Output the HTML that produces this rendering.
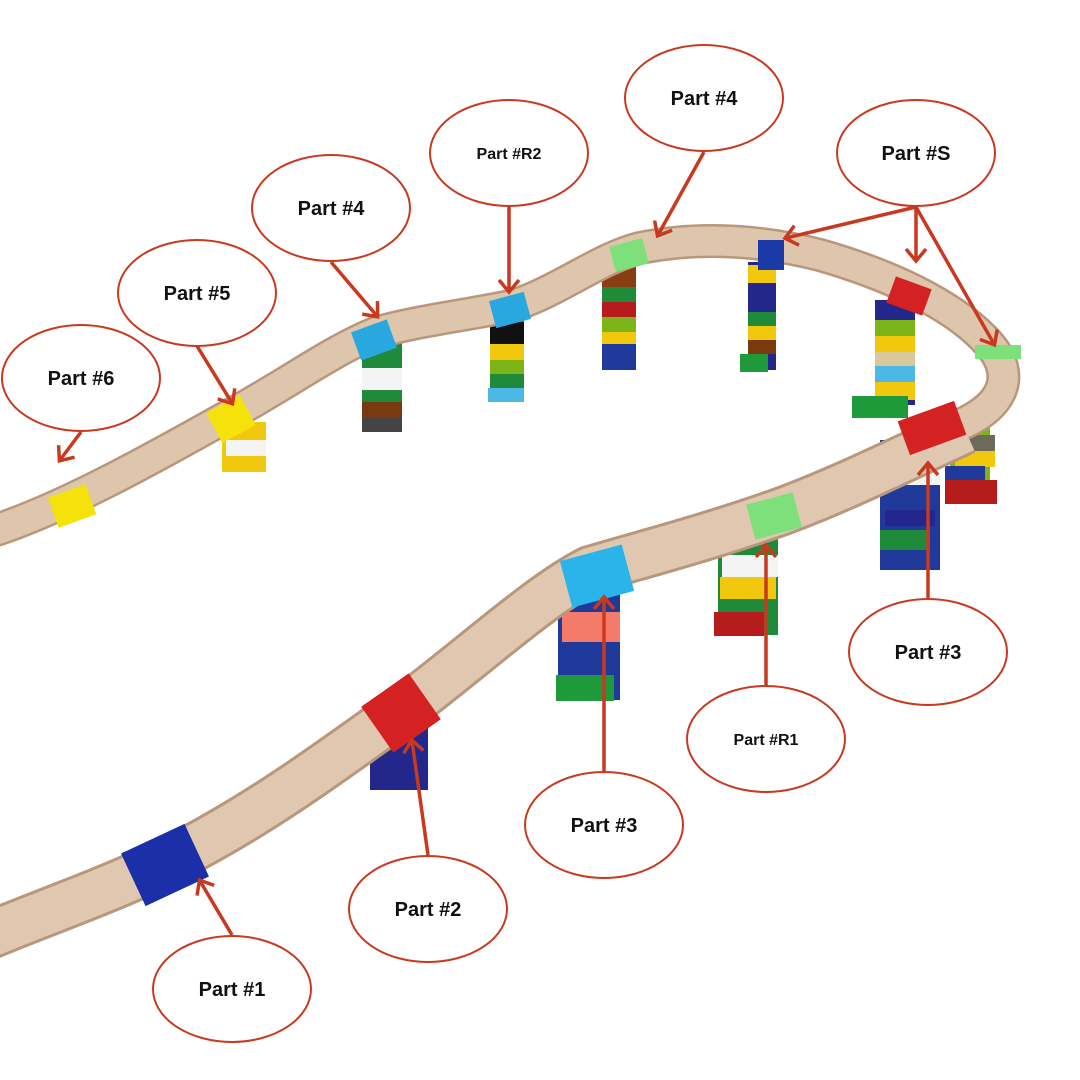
<!DOCTYPE html>
<html><head><meta charset="utf-8"><style>
html,body{margin:0;padding:0;background:#fff}
svg{display:block}
text{font-family:"Liberation Sans",sans-serif;font-weight:bold;fill:#111}
</style></head><body>
<svg width="1080" height="1080" viewBox="0 0 1080 1080" xmlns="http://www.w3.org/2000/svg">
<defs>
<marker id="ah" viewBox="0 0 10 10" refX="8" refY="5" markerWidth="10" markerHeight="10" orient="auto" markerUnits="userSpaceOnUse" style="overflow:visible">
<path d="M-3,-5 L9,5 L-3,15" fill="none" stroke="#c8391f" stroke-width="3.5"/>
</marker>
</defs>
<!-- pillars (back) -->
<g>
<rect x="602" y="265" width="34" height="105" fill="#1f3a9a"/>
<rect x="602" y="265" width="34" height="22" fill="#8a3d12"/>
<rect x="602" y="287" width="34" height="15" fill="#1e8a3a"/>
<rect x="602" y="302" width="34" height="15" fill="#b71c1c"/>
<rect x="602" y="317" width="34" height="15" fill="#7cb518"/>
<rect x="602" y="332" width="34" height="12" fill="#f2c80f"/>
<rect x="748" y="262" width="28" height="108" fill="#23268a"/>
<rect x="748" y="265" width="28" height="18" fill="#f2c80f"/>
<rect x="748" y="312" width="28" height="14" fill="#1e8a3a"/>
<rect x="748" y="326" width="28" height="14" fill="#f2c80f"/>
<rect x="748" y="340" width="28" height="14" fill="#7a3a10"/>
<rect x="740" y="354" width="28" height="18" fill="#1e9a3a"/>
<rect x="875" y="300" width="40" height="105" fill="#23268a"/>
<rect x="875" y="320" width="40" height="16" fill="#7cb518"/>
<rect x="875" y="336" width="40" height="16" fill="#f2c80f"/>
<rect x="875" y="352" width="40" height="14" fill="#d9c89a"/>
<rect x="875" y="366" width="40" height="16" fill="#4cb8e6"/>
<rect x="875" y="382" width="40" height="18" fill="#f2c80f"/>
<rect x="852" y="396" width="56" height="22" fill="#1e9a3a"/>
<rect x="950" y="420" width="40" height="70" fill="#7cb518"/>
<rect x="955" y="435" width="40" height="16" fill="#6e6a5a"/>
<rect x="955" y="451" width="40" height="16" fill="#f2c80f"/>
<rect x="945" y="466" width="40" height="18" fill="#1f3a9a"/>
<rect x="945" y="480" width="52" height="24" fill="#b71c1c"/>
<rect x="490" y="320" width="34" height="80" fill="#1e8a3a"/>
<rect x="490" y="322" width="34" height="22" fill="#111"/>
<rect x="490" y="344" width="34" height="16" fill="#f2c80f"/>
<rect x="490" y="360" width="34" height="14" fill="#7cb518"/>
<rect x="488" y="388" width="36" height="14" fill="#4cb8e6"/>
<rect x="362" y="340" width="40" height="92" fill="#1e8a3a"/>
<rect x="362" y="368" width="40" height="22" fill="#f4f4f4"/>
<rect x="362" y="402" width="40" height="18" fill="#7a3a10"/>
<rect x="362" y="418" width="40" height="14" fill="#444"/>
<rect x="222" y="422" width="44" height="50" fill="#f2c80f"/>
<rect x="226" y="440" width="40" height="16" fill="#f4f4f4"/>
</g>
<!-- back track -->
<path d="M-10,532 C60,510 150,460 230,415 C290,382 330,352 375,333 C420,320 470,315 515,305 C560,290 600,258 640,248 C700,236 760,240 820,255 C900,278 960,310 990,345 C1015,375 1005,405 960,425" fill="none" stroke="#b8977c" stroke-width="34"/>
<path d="M-10,532 C60,510 150,460 230,415 C290,382 330,352 375,333 C420,320 470,315 515,305 C560,290 600,258 640,248 C700,236 760,240 820,255 C900,278 960,310 990,345 C1015,375 1005,405 960,425" fill="none" stroke="#dec6ad" stroke-width="29"/>
<!-- front pillars -->
<rect x="880" y="440" width="60" height="130" fill="#1f3a9a"/>
<rect x="890" y="465" width="50" height="20" fill="#f4f4f4"/>
<rect x="885" y="510" width="50" height="16" fill="#23268a"/>
<rect x="880" y="530" width="50" height="20" fill="#1e8a3a"/>
<rect x="718" y="535" width="60" height="100" fill="#1e8a3a"/>
<rect x="722" y="555" width="56" height="22" fill="#f4f4f4"/>
<rect x="720" y="577" width="56" height="22" fill="#f2c80f"/>
<rect x="714" y="612" width="50" height="24" fill="#b71c1c"/>
<rect x="558" y="590" width="62" height="110" fill="#1f3a9a"/>
<rect x="562" y="612" width="58" height="30" fill="#f47a6a"/>
<rect x="556" y="675" width="58" height="26" fill="#1e9a3a"/>
<rect x="370" y="720" width="58" height="70" fill="#23268a"/>
<!-- front track -->
<path d="M965,430 C900,460 840,490 780,512 C700,540 640,555 590,570 C540,595 470,660 400,712 C320,770 250,820 170,860 C110,890 50,910 -10,935" fill="none" stroke="#b8977c" stroke-width="50"/>
<path d="M965,430 C900,460 840,490 780,512 C700,540 640,555 590,570 C540,595 470,660 400,712 C320,770 250,820 170,860 C110,890 50,910 -10,935" fill="none" stroke="#e0c8b0" stroke-width="44"/>
<!-- connectors -->
<rect x="52" y="490" width="40" height="32" fill="#f5e20a" transform="rotate(-20 72 506)"/>
<rect x="212" y="402" width="38" height="34" fill="#f5e20a" transform="rotate(-28 231 419)"/>
<rect x="355" y="325" width="38" height="30" fill="#29a8e0" transform="rotate(-20 374 340)"/>
<rect x="492" y="296" width="36" height="28" fill="#29a8e0" transform="rotate(-15 510 310)"/>
<rect x="612" y="242" width="34" height="26" fill="#7de07a" transform="rotate(-15 629 255)"/>
<rect x="758" y="240" width="26" height="30" fill="#1a3aa8"/>
<rect x="890" y="282" width="38" height="28" fill="#d42222" transform="rotate(20 909 296)"/>
<rect x="975" y="345" width="46" height="14" fill="#7de07a"/>
<rect x="902" y="410" width="60" height="36" fill="#d42222" transform="rotate(-20 932 428)"/>
<rect x="750" y="498" width="48" height="36" fill="#7de07a" transform="rotate(-15 774 516)"/>
<rect x="565" y="552" width="64" height="48" fill="#2ab4ea" transform="rotate(-15 597 576)"/>
<rect x="372" y="685" width="58" height="56" fill="#d42222" transform="rotate(-35 401 713)"/>
<rect x="130" y="836" width="70" height="58" fill="#1a2fa8" transform="rotate(-25 165 865)"/>
<!-- arrows -->
<g stroke="#c8391f" stroke-width="3.5" fill="none" marker-end="url(#ah)">
<line x1="81" y1="432" x2="60" y2="460"/>
<line x1="197" y1="346" x2="232" y2="403"/>
<line x1="331" y1="262" x2="377" y2="316"/>
<line x1="509" y1="207" x2="509" y2="291"/>
<line x1="704" y1="152" x2="658" y2="235"/>
<line x1="916" y1="207" x2="786" y2="238"/>
<line x1="916" y1="207" x2="916" y2="260"/>
<line x1="916" y1="207" x2="994" y2="344"/>
<line x1="928" y1="598" x2="928" y2="464"/>
<line x1="766" y1="686" x2="766" y2="546"/>
<line x1="604" y1="771" x2="604" y2="598"/>
<line x1="428" y1="855" x2="412" y2="741"/>
<line x1="232" y1="935" x2="200" y2="881"/>
</g>
<!-- ellipses -->
<g fill="#fff" stroke="#c8391f" stroke-width="2">
<ellipse cx="81" cy="378" rx="79" ry="53"/>
<ellipse cx="197" cy="293" rx="79" ry="53"/>
<ellipse cx="331" cy="208" rx="79" ry="53"/>
<ellipse cx="509" cy="153" rx="79" ry="53"/>
<ellipse cx="704" cy="98" rx="79" ry="53"/>
<ellipse cx="916" cy="153" rx="79" ry="53"/>
<ellipse cx="928" cy="652" rx="79" ry="53"/>
<ellipse cx="766" cy="739" rx="79" ry="53"/>
<ellipse cx="604" cy="825" rx="79" ry="53"/>
<ellipse cx="428" cy="909" rx="79" ry="53"/>
<ellipse cx="232" cy="989" rx="79" ry="53"/>
</g>
<g font-size="20" text-anchor="middle">
<text x="81" y="385">Part #6</text>
<text x="197" y="300">Part #5</text>
<text x="331" y="215">Part #4</text>
<text x="509" y="159" font-size="16">Part #R2</text>
<text x="704" y="105">Part #4</text>
<text x="916" y="160">Part #S</text>
<text x="928" y="659">Part #3</text>
<text x="766" y="745" font-size="16">Part #R1</text>
<text x="604" y="832">Part #3</text>
<text x="428" y="916">Part #2</text>
<text x="232" y="996">Part #1</text>
</g>
</svg>
</body></html>
